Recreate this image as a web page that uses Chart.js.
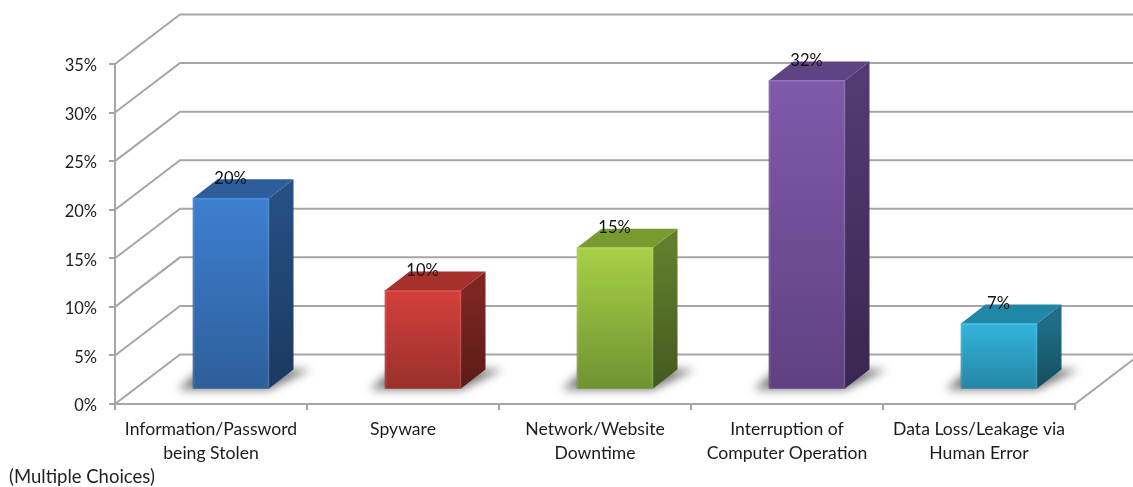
<!DOCTYPE html>
<html><head><meta charset="utf-8">
<style>html,body{margin:0;padding:0;background:#fff;overflow:hidden}canvas{display:block}</style>
<script src="https://cdn.jsdelivr.net/npm/chart.js@4"></script>
</head><body><canvas id="c" width="1133" height="487"></canvas>
<script>
const categories = [
  ["Information/Password","being Stolen"],
  ["Spyware"],
  ["Network/Website","Downtime"],
  ["Interruption of","Computer Operation"],
  ["Data Loss/Leakage via","Human Error"]
];
const values = [19.7, 10.2, 14.6, 31.8, 6.8];
const valueLabels = ["20%", "10%", "15%", "32%", "7%"];
const yTicks = [0, 5, 10, 15, 20, 25, 30, 35];
const footnote = "(Multiple Choices)";
const frontTop = ["#3d7fd0","#d43f3b","#a9d046","#8059ab","#33b5de"];
const frontBottom = ["#2e5e9a","#99302c","#6f9233","#5f4181","#2585a3"];
const topFace = ["#2d5d9b","#a5302c","#789b30","#5f4484","#2286a6"];
const sideTop = ["#264f82","#7c2622","#607f2d","#523b73","#1f6d86"];
const sideBottom = ["#1b3960","#5c1b18","#43591f","#38274f","#144e5e"];

const FONT = '"Lato", sans-serif';
const GRID = "#a6a6a6";
const wall = {dx: 65, dy: -49.5};     // floor depth
const barShift = {dx: 20, dy: -14.5}; // bars stand in mid depth
const barDepth = {dx: 24.5, dy: -19};

const box3d = {
  id: "box3d",
  beforeDatasetsDraw(chart) {
    const {ctx, scales: {x, y}} = chart;
    ctx.save();
    ctx.strokeStyle = GRID; ctx.lineWidth = 2;
    yTicks.forEach(t => {
      const py = y.getPixelForValue(t);
      ctx.beginPath();
      ctx.moveTo(x.left, py);
      ctx.lineTo(x.left + wall.dx, py + wall.dy);
      ctx.lineTo(chart.width + 2, py + wall.dy);
      ctx.stroke();
    });
    const by = y.getPixelForValue(0);
    ctx.beginPath();
    ctx.moveTo(x.right, by);
    ctx.lineTo(x.right + wall.dx, by + wall.dy);
    ctx.stroke();
    const bars = chart.getDatasetMeta(0).data;
    bars.forEach((b, i) => {
      const l = b.x - b.width/2 + barShift.dx, r = b.x + b.width/2 + barShift.dx;
      const tp = b.y + barShift.dy, bt = b.base + barShift.dy;
      // floor shadow
      ctx.save();
      ctx.filter = "blur(5px)";
      ctx.fillStyle = "rgba(85,85,85,0.8)";
      ctx.beginPath();
      ctx.moveTo(l - 15, bt + 1);
      ctx.lineTo(r, bt + 1);
      ctx.lineTo(r + barDepth.dx + 17, bt + barDepth.dy);
      ctx.lineTo(l + 8, bt + barDepth.dy);
      ctx.closePath(); ctx.fill();
      ctx.restore();
      // side face
      const g = ctx.createLinearGradient(0, tp, 0, bt);
      g.addColorStop(0, sideTop[i]); g.addColorStop(1, sideBottom[i]);
      ctx.fillStyle = g;
      ctx.beginPath();
      ctx.moveTo(r, tp); ctx.lineTo(r + barDepth.dx, tp + barDepth.dy);
      ctx.lineTo(r + barDepth.dx, bt + barDepth.dy); ctx.lineTo(r, bt);
      ctx.closePath(); ctx.fill();
      // top face
      ctx.fillStyle = topFace[i];
      ctx.beginPath();
      ctx.moveTo(l, tp); ctx.lineTo(l + barDepth.dx, tp + barDepth.dy);
      ctx.lineTo(r + barDepth.dx, tp + barDepth.dy); ctx.lineTo(r, tp);
      ctx.closePath(); ctx.fill();
    });
    ctx.restore();
    ctx.save();
    ctx.translate(barShift.dx, barShift.dy);
  },
  afterDatasetsDraw(chart) {
    const {ctx} = chart;
    ctx.restore();
    ctx.save();
    // soft bevel on the front edges of each bar
    ctx.strokeStyle = "rgba(255,255,255,0.1)";
    ctx.lineWidth = 1.5;
    chart.getDatasetMeta(0).data.forEach(b => {
      const l = b.x - b.width/2 + barShift.dx, r = b.x + b.width/2 + barShift.dx;
      const tp = b.y + barShift.dy, bt = b.base + barShift.dy;
      ctx.beginPath();
      ctx.moveTo(l + 0.75, bt); ctx.lineTo(l + 0.75, tp + 0.75);
      ctx.lineTo(r - 0.75, tp + 0.75); ctx.lineTo(r - 0.75, bt);
      ctx.stroke();
    });
    ctx.fillStyle = "#111";
    ctx.font = "16.5px " + FONT;
    ctx.textAlign = "center"; ctx.textBaseline = "middle";
    chart.getDatasetMeta(0).data.forEach((b, i) => {
      ctx.fillText(valueLabels[i], b.x + barShift.dx - 0.5, b.y + barShift.dy - 19.5);
    });
    ctx.fillStyle = "#222";
    ctx.font = "18.5px " + FONT;
    ctx.textAlign = "left";
    ctx.fillText(footnote, 9, 477);
    ctx.restore();
  }
};

new Chart(document.getElementById("c"), {
  type: "bar",
  plugins: [box3d],
  data: {
    labels: categories,
    datasets: [{
      data: values,
      clip: false,
      barThickness: 76,
      borderWidth: 0,
      backgroundColor(c) {
        const i = c.dataIndex === undefined ? 0 : c.dataIndex;
        const y = c.chart.scales.y;
        const p0 = y ? y.getPixelForValue(values[i]) : NaN;
        const p1 = y ? y.getPixelForValue(0) : NaN;
        if (!isFinite(p0) || !isFinite(p1)) return frontTop[i];
        const g = c.chart.ctx.createLinearGradient(0, p0, 0, p1);
        g.addColorStop(0, frontTop[i]);
        g.addColorStop(1, frontBottom[i]);
        return g;
      }
    }]
  },
  options: {
    responsive: false,
    animation: false,
    devicePixelRatio: 1,
    layout: {padding: {left: 0, right: 58, top: 64, bottom: 0}},
    plugins: {legend: {display: false}, tooltip: {enabled: false}, title: {display: false}},
    scales: {
      x: {
        afterFit(s) { s.height = 83; },
        border: {display: true, color: GRID, width: 2},
        grid: {drawOnChartArea: false, drawTicks: true, tickLength: 6, color: GRID, lineWidth: 2},
        ticks: {color: "#1c1c1c", maxRotation: 0, autoSkip: false, padding: 8, font: {family: FONT, size: 17.6, lineHeight: 1.32}}
      },
      y: {
        min: 0, max: 35,
        afterFit(s) { s.width = 115; },
        afterBuildTicks(s) { s.ticks = yTicks.map(v => ({value: v})); },
        afterUpdate(s) {
          if (s._nudged) return;
          s._nudged = true;
          const draw = s.drawLabels;
          s.drawLabels = function (a) {
            this.ctx.save();
            this.ctx.translate(0, 2);
            draw.call(this, a);
            this.ctx.restore();
          };
        },
        border: {display: true, color: GRID, width: 2},
        grid: {drawOnChartArea: false, drawTicks: true, tickLength: 6, color: GRID, lineWidth: 2},
        ticks: {color: "#1c1c1c", padding: 12, callback: v => v + "%", font: {family: FONT, size: 16.5}}
      }
    }
  }
});
</script></body></html>
